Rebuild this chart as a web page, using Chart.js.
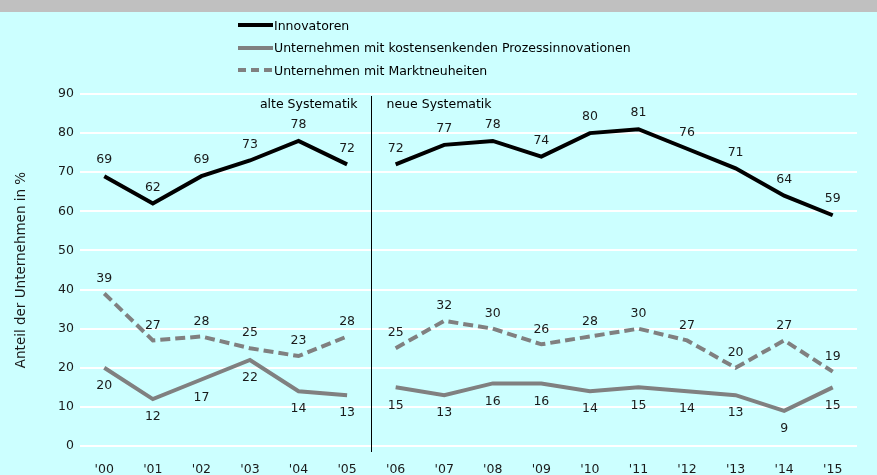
<!DOCTYPE html>
<html>
<head>
<meta charset="utf-8">
<script src="https://cdn.jsdelivr.net/npm/chart.js@4/dist/chart.umd.min.js"></script>
<style>
    html, body { margin: 0; padding: 0; }
    body { width: 877px; height: 475px; background: #ccffff; position: relative; overflow: hidden; font-family: 'DejaVu Sans', Verdana, sans-serif; }
    #topbar { position: absolute; left: 0; top: 0; width: 877px; height: 12px; background: #c0c0c0; }
    #wrap { position: absolute; left: 0; top: 0; width: 877px; height: 475px; }
    #legend { position: absolute; left: 238px; top: 14px; font-size: 12.5px; color: #000; }
    .item { height: 22.5px; display: flex; align-items: center; }
    .item svg { margin-right: 1px; }
</style>
</head>
<body>
<div id="topbar"></div>
<div id="wrap"><canvas id="innoChart" width="877" height="475"></canvas></div>
<div id="legend"></div>
<script>
const years = ["'00", "'01", "'02", "'03", "'04", "'05", "'06", "'07", "'08", "'09", "'10", "'11", "'12", "'13", "'14", "'15"];
const innovatoren = [69, 62, 69, 73, 78, 72, 72, 77, 78, 74, 80, 81, 76, 71, 64, 59];
const prozess = [20, 12, 17, 22, 14, 13, 15, 13, 16, 16, 14, 15, 14, 13, 9, 15];
const markt = [39, 27, 28, 25, 23, 28, 25, 32, 30, 26, 28, 30, 27, 20, 27, 19];
const seriesNames = ['Innovatoren', 'Unternehmen mit kostensenkenden Prozessinnovationen', 'Unternehmen mit Marktneuheiten'];
const yTicks = [0, 10, 20, 30, 40, 50, 60, 70, 80, 90];

const FONT = "'DejaVu Sans', Verdana, sans-serif";
const BREAK_AFTER = 5; // no line between '05 and '06 (Systematikwechsel)

// legend (HTML)
const legendStyles = [
    { color: '#000000', width: 4, dash: '' },
    { color: '#808080', width: 4, dash: '' },
    { color: '#808080', width: 4, dash: '8,5' }
];
const legendEl = document.getElementById('legend');
seriesNames.forEach(function(name, i) {
    const s = legendStyles[i];
    const div = document.createElement('div');
    div.className = 'item';
    div.innerHTML = '<svg width="35" height="6"><line x1="0" y1="3" x2="35" y2="3" stroke="' + s.color +
        '" stroke-width="' + s.width + '" stroke-dasharray="' + s.dash + '"/></svg><span>' + name + '</span>';
    legendEl.appendChild(div);
});

function gapSegment(color) {
    return {
        borderColor: ctx => ctx.p0DataIndex === BREAK_AFTER ? 'rgba(0,0,0,0)' : color
    };
}

// data labels + separator line + "alte/neue Systematik"
const labelPlugin = {
    id: 'labelPlugin',
    afterDatasetsDraw(chart) {
        const ctx = chart.ctx;
        const x = chart.scales.x;
        const area = chart.chartArea;
        ctx.save();

        const sepX = Math.round((x.getPixelForValue(BREAK_AFTER) + x.getPixelForValue(BREAK_AFTER + 1)) / 2) + 0.5;
        ctx.strokeStyle = '#000';
        ctx.lineWidth = 1;
        ctx.beginPath();
        ctx.moveTo(sepX, area.top + 2);
        ctx.lineTo(sepX, area.bottom + 6);
        ctx.stroke();

        ctx.fillStyle = '#000';
        ctx.font = '12.5px ' + FONT;
        ctx.textBaseline = 'middle';
        ctx.textAlign = 'right';
        ctx.fillText('alte Systematik', sepX - 14, area.top + 11);
        ctx.textAlign = 'left';
        ctx.fillText('neue Systematik', sepX + 15, area.top + 11);

        const offsets = [-16, 18, -15];
        ctx.textAlign = 'center';
        ctx.fillStyle = '#1a1a1a';
        chart.data.datasets.forEach(function(ds, i) {
            const meta = chart.getDatasetMeta(i);
            meta.data.forEach(function(pt, j) {
                ctx.fillText(String(ds.data[j]), pt.x, pt.y + offsets[i]);
            });
        });
        ctx.restore();
    }
};

new Chart(document.getElementById('innoChart'), {
    type: 'line',
    data: {
        labels: years,
        datasets: [
            {
                label: seriesNames[0],
                data: innovatoren,
                borderColor: '#000000',
                borderWidth: 4,
                pointRadius: 0,
                tension: 0,
                segment: gapSegment('#000000')
            },
            {
                label: seriesNames[1],
                data: prozess,
                borderColor: '#808080',
                borderWidth: 4,
                pointRadius: 0,
                tension: 0,
                segment: gapSegment('#808080')
            },
            {
                label: seriesNames[2],
                data: markt,
                borderColor: '#808080',
                borderWidth: 4,
                borderDash: [10, 5],
                pointRadius: 0,
                tension: 0,
                segment: gapSegment('#808080')
            }
        ]
    },
    options: {
        responsive: false,
        animation: false,
        layout: { padding: { top: 94, right: 20, left: 0, bottom: 0 } },
        plugins: {
            legend: { display: false },
            tooltip: { enabled: false }
        },
        scales: {
            x: {
                offset: true,
                grid: { display: false },
                border: { display: false },
                ticks: { color: '#1a1a1a', font: { family: FONT, size: 12.5 }, padding: 8, maxRotation: 0, autoSkip: false },
                afterFit: function(scale) { scale.height = 29; }
            },
            y: {
                min: 0,
                max: 90,
                afterBuildTicks: function(scale) { scale.ticks = yTicks.map(v => ({ value: v })); },
                grid: { color: '#ffffff', lineWidth: 2, drawTicks: false },
                border: { display: false },
                ticks: { color: '#1a1a1a', font: { family: FONT, size: 12.5 }, padding: 6 },
                title: {
                    display: true,
                    text: 'Anteil der Unternehmen in %',
                    color: '#1a1a1a',
                    font: { family: FONT, size: 13.5 },
                    padding: { top: 13, bottom: 0 }
                },
                afterFit: function(scale) { scale.width = 80; }
            }
        }
    },
    plugins: [labelPlugin]
});
</script>
</body>
</html>
